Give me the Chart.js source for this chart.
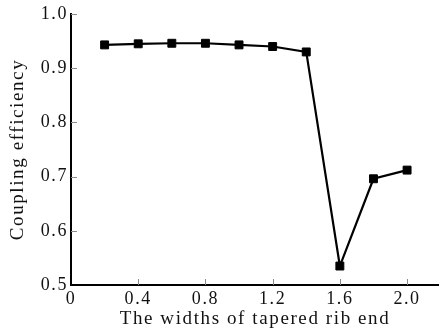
<!DOCTYPE html>
<html>
<head>
<meta charset="utf-8">
<script src="https://cdn.jsdelivr.net/npm/chart.js@4/dist/chart.umd.min.js"></script>
<style>
  html, body { margin: 0; padding: 0; background: #fff; }
  #wrap { width: 439px; height: 336px; position: relative; }
</style>
</head>
<body>
<div id="wrap"><canvas id="c" width="439" height="336"></canvas></div>
<script>
const widths = [0.2, 0.4, 0.6, 0.8, 1.0, 1.2, 1.4, 1.6, 1.8, 2.0];
const efficiency = [0.943, 0.945, 0.946, 0.946, 0.943, 0.940, 0.930, 0.535, 0.696, 0.712];
const xTickValues = [0, 0.4, 0.8, 1.2, 1.6, 2.0];
const xTickLabels = ['0', '0.4', '0.8', '1.2', '1.6', '2.0'];
const yTickValues = [0.5, 0.6, 0.7, 0.8, 0.9, 1.0];
const yTickLabels = ['0.5', '0.6', '0.7', '0.8', '0.9', '1.0'];
const xTitle = 'The widths of tapered rib end';
const yTitle = 'Coupling efficiency';

const FONT = '"Liberation Serif", "Times New Roman", serif';

const spacingPlugin = {
  id: 'spacing',
  beforeUpdate(chart) { chart.ctx.letterSpacing = '1.6px'; },
  beforeLayout(chart) { chart.ctx.letterSpacing = '1.6px'; },
  beforeDraw(chart) { chart.ctx.letterSpacing = '1.6px'; }
};

const inwardTicks = {
  id: 'inwardTicks',
  afterDatasetsDraw(chart) {
    const ctx = chart.ctx;
    const xs = chart.scales.x, ys = chart.scales.y;
    const area = chart.chartArea;
    ctx.save();
    ctx.strokeStyle = '#8a8a8a';
    ctx.lineWidth = 1;
    ctx.beginPath();
    xTickValues.forEach(v => {
      if (v === 0) return;
      const px = Math.round(xs.getPixelForValue(v)) + 0.5;
      ctx.moveTo(px, area.bottom);
      ctx.lineTo(px, area.bottom - 6);
    });
    yTickValues.forEach(v => {
      if (v === 0.5) return;
      const py = Math.round(ys.getPixelForValue(v)) + 0.5;
      ctx.moveTo(area.left, py);
      ctx.lineTo(area.left + 6, py);
    });
    ctx.stroke();
    ctx.restore();
  }
};

new Chart(document.getElementById('c'), {
  type: 'line',
  data: {
    datasets: [{
      data: widths.map((w, i) => ({ x: w, y: efficiency[i] })),
      borderColor: '#000',
      backgroundColor: '#000',
      borderWidth: 2.2,
      pointStyle: 'rect',
      pointRadius: 5.6,
      pointBorderWidth: 1,
      pointBackgroundColor: '#000',
      pointBorderColor: '#000',
      tension: 0,
      clip: false
    }]
  },
  options: {
    responsive: false,
    animation: false,
    devicePixelRatio: 1,
    layout: { autoPadding: false, padding: { top: 14, right: 0, left: 0, bottom: 0 } },
    plugins: { legend: { display: false }, tooltip: { enabled: false } },
    scales: {
      x: {
        type: 'linear',
        min: 0,
        max: 2.19,
        afterBuildTicks(scale) { scale.ticks = xTickValues.map(v => ({ value: v })); },
        afterFit(scale) { scale.height = 51; scale.paddingRight = 0; scale.paddingLeft = 0; },
        grid: { display: false, drawTicks: false },
        border: { display: true, color: '#000', width: 2 },
        ticks: {
          padding: 3,
          color: '#111',
          font: { family: FONT, size: 18 },
          maxRotation: 0,
          autoSkip: false,
          callback(v) { const i = xTickValues.findIndex(t => Math.abs(t - v) < 1e-9); return i >= 0 ? xTickLabels[i] : ''; }
        },
        title: {
          display: true,
          text: xTitle,
          color: '#111',
          font: { family: FONT, size: 19 },
          padding: { top: 0, bottom: 6 }
        }
      },
      y: {
        type: 'linear',
        min: 0.5,
        max: 1.0,
        afterBuildTicks(scale) { scale.ticks = yTickValues.map(v => ({ value: v })); },
        afterFit(scale) { scale.width = 71; },
        grid: { display: false, drawTicks: false },
        border: { display: true, color: '#000', width: 2 },
        ticks: {
          padding: 3,
          color: '#111',
          font: { family: FONT, size: 18 },
          autoSkip: false,
          callback(v) { const i = yTickValues.findIndex(t => Math.abs(t - v) < 1e-9); return i >= 0 ? yTickLabels[i] : ''; }
        },
        title: {
          display: true,
          text: yTitle,
          color: '#111',
          font: { family: FONT, size: 19 },
          padding: { top: 7, bottom: 0 }
        }
      }
    }
  },
  plugins: [spacingPlugin, inwardTicks]
});
</script>
</body>
</html>
